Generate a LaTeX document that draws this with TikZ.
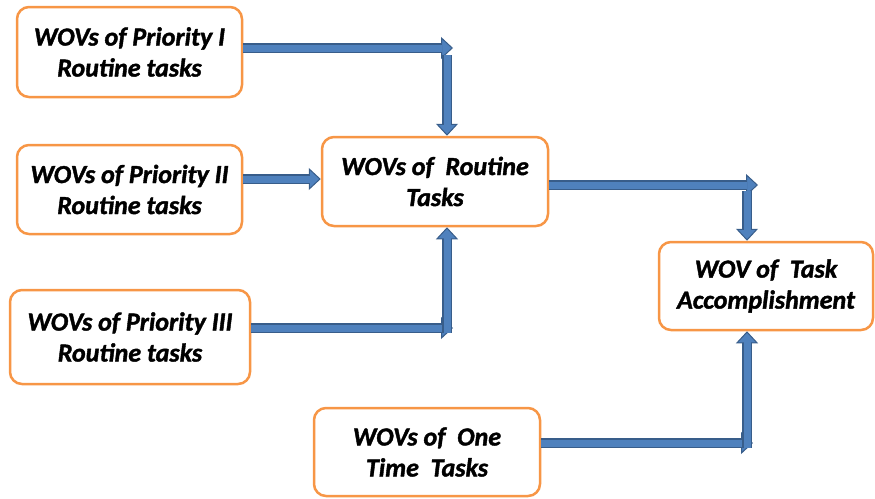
\documentclass[tikz,border=0pt]{standalone}
\usepackage{fontspec}
\setmainfont{Carlito}
\usetikzlibrary{arrows.meta}
\definecolor{orng}{RGB}{247,150,70}
\definecolor{bfill}{RGB}{79,129,189}
\definecolor{bdark}{RGB}{56,93,138}
\tikzset{
  box/.style={draw=orng, line width=2.5pt, rounded corners=12pt, fill=white, align=center,
    font=\fontsize{26}{31}\selectfont\bfseries\itshape\addfontfeatures{FakeBold=1.5}, inner sep=0pt},
  outerarr/.style={draw=bdark, line width=10pt, -{Triangle[length=12pt,width=22pt,line width=1pt,fill=bfill,color=bdark]}},
  innerarr/.style={draw=bfill, line width=7pt, shorten >=11pt},
}
\newcommand\blkarrow[2]{\draw[outerarr] #1 -- #2; \draw[innerarr] #1 -- #2;}
\begin{document}
\begin{tikzpicture}[x=1pt,y=-1pt]
\useasboundingbox (0,0) rectangle (875,498);
\node[box, minimum width=225pt, minimum height=90pt] (B1) at (129.5,52) {WOVs of Priority I\\Routine tasks};
\node[box, minimum width=225pt, minimum height=89pt] (B2) at (129.5,189.5) {WOVs of Priority II\\Routine tasks};
\node[box, minimum width=240pt, minimum height=94pt] (B3) at (130,337) {WOVs of Priority III\\Routine tasks};
\node[box, minimum width=226pt, minimum height=89pt] (R) at (435,181.5) {WOVs of~ Routine\\Tasks};
\node[box, minimum width=214pt, minimum height=88pt] (T) at (766,286) {WOV of~ Task\\Accomplishment};
\node[box, minimum width=226pt, minimum height=88pt] (O) at (427,452) {WOVs of~ One\\Time~ Tasks};
\coordinate (h1) at (453,48);
\coordinate (v1) at (447,55);
\coordinate (h2) at (322,179);
\coordinate (h3) at (453,328);
\coordinate (v3) at (447,333);
\coordinate (h6) at (758,185);
\coordinate (v6) at (747,191);
\coordinate (h8) at (753,443);
\coordinate (v8) at (747,448);
\blkarrow{(B1.east |- h1)}{(h1)}
\blkarrow{(v1)}{(v1 |- R.north)}
\blkarrow{(B2.east |- h2)}{(R.west |- h2)}
\blkarrow{(B3.east |- h3)}{(h3)}
\blkarrow{(v3)}{(v3 |- R.south)}
\blkarrow{(R.east |- h6)}{(h6)}
\blkarrow{(v6)}{(v6 |- T.north)}
\blkarrow{(O.east |- h8)}{(h8)}
\blkarrow{(v8)}{(v8 |- T.south)}
\end{tikzpicture}
\end{document}
